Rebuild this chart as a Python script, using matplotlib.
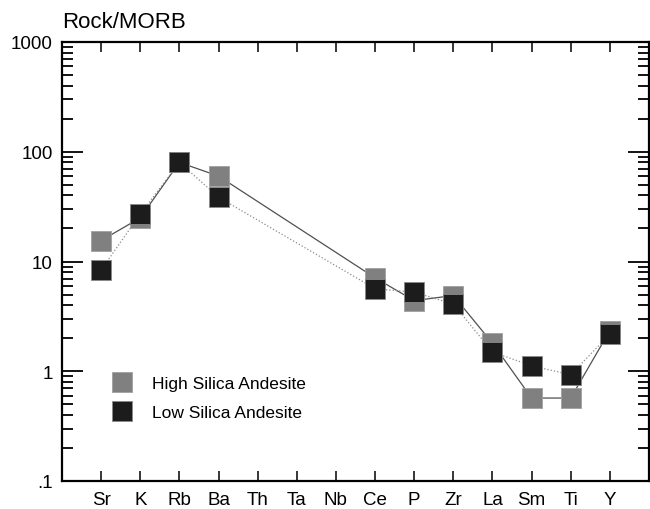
import numpy as np
import matplotlib
matplotlib.use("Agg")
import matplotlib.pyplot as plt
from matplotlib.lines import Line2D
from matplotlib.ticker import FixedLocator, FixedFormatter, LogLocator, NullFormatter

plt.rcParams['font.family'] = ['Liberation Sans', 'DejaVu Sans']

# element order along the spider diagram
elements = ['Sr', 'K', 'Rb', 'Ba', 'Th', 'Ta', 'Nb', 'Ce', 'P', 'Zr', 'La', 'Sm', 'Ti', 'Y']

# rock / MORB ratios (nan = not analysed)
high_silica = [15.5, 25, 80, 60, np.nan, np.nan, np.nan, 7.1, 4.4, 4.9, 1.8, 0.57, 0.57, 2.35]
low_silica = [8.4, 27, 80, 38.5, np.nan, np.nan, np.nan, 5.65, 5.25, 4.1, 1.5, 1.12, 0.93, 2.18]

ytick_vals = [0.1, 1, 10, 100, 1000]
ytick_labels = ['.1', '1', '10', '100', '1000']

fig = plt.figure(figsize=(6.5, 5.1), dpi=100)
ax = fig.add_axes([62 / 650, 28 / 510, 587 / 650, 439 / 510])

x = np.arange(len(elements))
hs = np.array(high_silica)
ls = np.array(low_silica)
mh = ~np.isnan(hs)
ml = ~np.isnan(ls)

# connecting lines (skip missing elements)
ax.plot(x[mh], hs[mh], '-', color='#505050', lw=0.9, zorder=2)
ax.plot(x[ml], ls[ml], ':', color='#8a8a8a', lw=0.9, zorder=2)

# markers: grey first, black on top
ax.plot(x[mh], hs[mh], 's', ls='none', ms=14.3, color='#808080',
        mec='#a0a0a0', mew=0.6, zorder=3)
ax.plot(x[ml], ls[ml], 's', ls='none', ms=14.3, color='#1c1c1c',
        mec='#8a8a8a', mew=0.6, zorder=4)

ax.set_yscale('log')
ax.set_ylim(0.1, 1000)
ax.set_xlim(-1, 14)

ax.yaxis.set_major_locator(FixedLocator(ytick_vals))
ax.yaxis.set_major_formatter(FixedFormatter(ytick_labels))
ax.yaxis.set_minor_locator(LogLocator(base=10, subs=np.arange(2, 10)))
ax.yaxis.set_minor_formatter(NullFormatter())

ax.set_xticks(x)
ax.set_xticklabels(elements)

ax.tick_params(axis='y', which='major', direction='in', length=15, width=1.3,
               labelsize=13.5, pad=6.5, left=True, right=True)
ax.tick_params(axis='y', which='minor', direction='in', length=8, width=1.3,
               left=True, right=True)
ax.tick_params(axis='x', which='major', direction='in', length=7.5, width=1.1,
               labelsize=13.5, pad=7, top=True, bottom=True)
ax.tick_params(axis='x', which='minor', bottom=False, top=False)

for sp in ax.spines.values():
    sp.set_linewidth(1.6)

ax.set_title('Rock/MORB', loc='left', fontsize=16, pad=11)

handles = [
    Line2D([], [], ls='none', marker='s', ms=14, color='#808080', mec='#a0a0a0', mew=0.6),
    Line2D([], [], ls='none', marker='s', ms=14, color='#1c1c1c', mec='#8a8a8a', mew=0.6),
]
ax.legend(handles, ['High Silica Andesite', 'Low Silica Andesite'],
          loc='center left', bbox_to_anchor=(0.088, 0.19), frameon=False,
          fontsize=12.5, handlelength=1.0, handletextpad=1.2, labelspacing=0.8,
          borderpad=0, borderaxespad=0)

fig.savefig('out.png', dpi=100)
